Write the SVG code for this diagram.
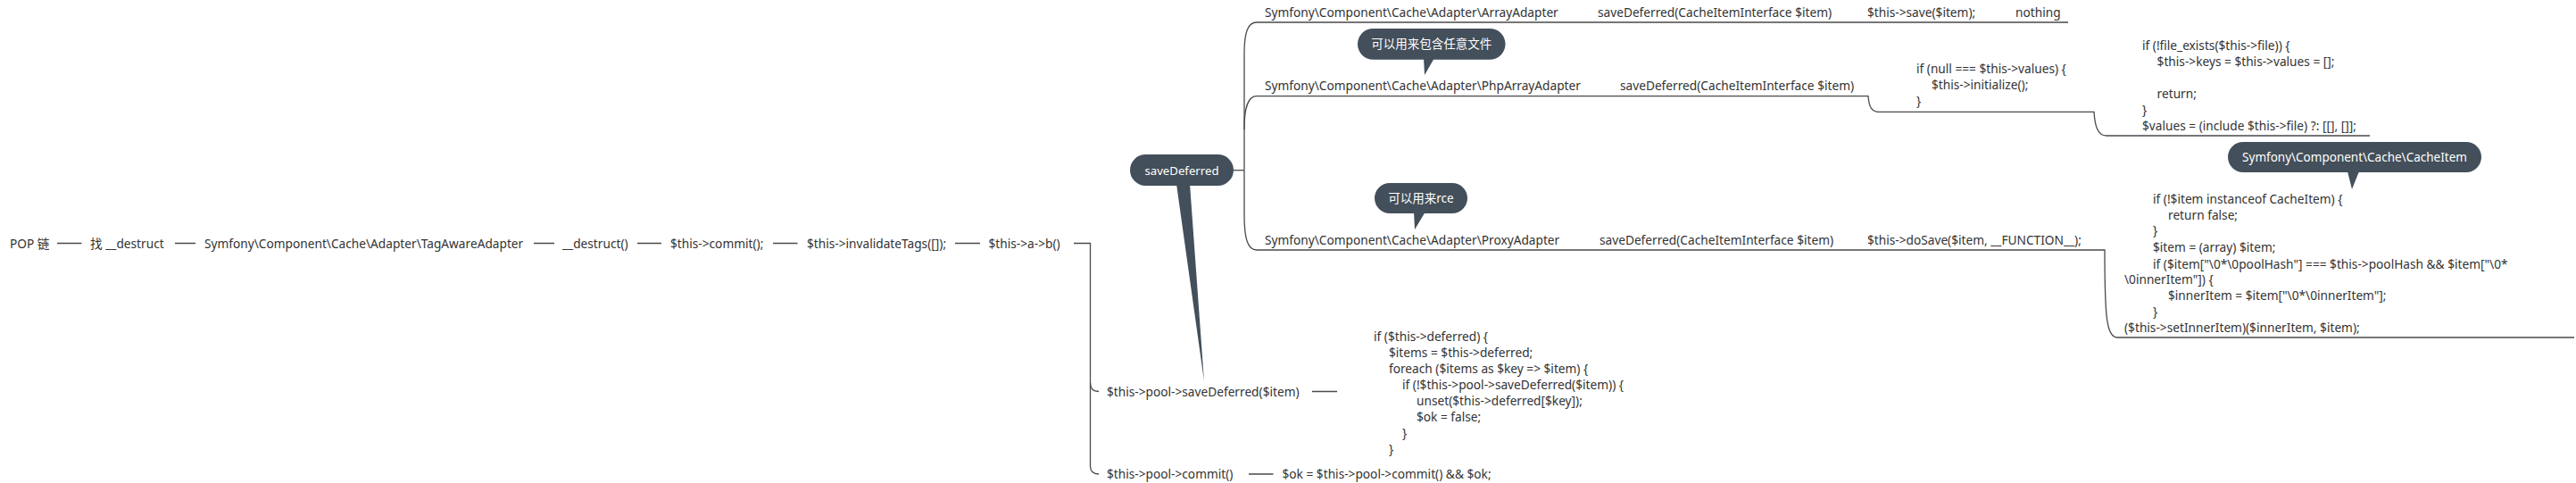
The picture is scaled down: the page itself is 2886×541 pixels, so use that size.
<svg xmlns="http://www.w3.org/2000/svg" width="2886" height="541" viewBox="0 0 2886 541">
<style>
text{font-family:"Noto Sans","Noto Sans CJK SC",sans-serif;font-size:13.7px;fill:#333333}
.w{fill:#ffffff;text-anchor:middle;font-size:13.5px}
.c{fill:none;stroke:#4a4a4a;stroke-width:1.3}
.b{fill:#434f5a}
</style>
<rect width="2886" height="541" fill="#ffffff"/>
<g id="connectors">
<path class="c" d="M64,272.5H91.5M196,272.5H219M598,272.5H621M714,272.5H741M866,272.5H893.5M1070,272.5H1098"/>
<path class="c" d="M1203,272.5H1221.5V522C1221.5,528 1224,531 1231,531"/>
<path class="c" d="M1221.5,429C1221.5,435 1224,438.5 1231,438.5"/>
<path class="c" d="M1470,438.5H1498M1399,531H1426.5"/>
<path class="c" d="M1382,190.7H1394"/>
<path class="c" d="M1394,190.7V60C1394,36 1398,25 1408,25H2317"/>
<path class="c" d="M1394,145C1394,120 1398,107.7 1408,107.7H2093C2094,120 2097,125.3 2105,125.3H2346C2347,141 2350,152 2360,152H2655"/>
<path class="c" d="M1394,190.7V240C1394,268 1398,280 1408,280H2358C2358,355 2360,378 2372,378H2884"/>
</g>
<g id="n-pop"><text x="11" y="277.5">POP 链</text></g>
<g id="n-find"><text x="101" y="277.5">找 __destruct</text></g>
<g id="n-tagaware"><text x="229" y="277.5">Symfony\Component\Cache\Adapter\TagAwareAdapter</text></g>
<g id="n-destruct"><text x="630" y="277.5">__destruct()</text></g>
<g id="n-commit"><text x="751" y="277.5">$this-&gt;commit();</text></g>
<g id="n-invalidate"><text x="904" y="277.5">$this-&gt;invalidateTags([]);</text></g>
<g id="n-ab"><text x="1107.5" y="277.5">$this-&gt;a-&gt;b()</text></g>
<g id="n-poolsave"><text x="1240" y="443.5">$this-&gt;pool-&gt;saveDeferred($item)</text></g>
<g id="n-poolsave-code">
<text x="1539" y="381.7">if ($this-&gt;deferred) {</text>
<text x="1556" y="399.5">$items = $this-&gt;deferred;</text>
<text x="1556" y="417.5">foreach ($items as $key =&gt; $item) {</text>
<text x="1571" y="435.5">if (!$this-&gt;pool-&gt;saveDeferred($item)) {</text>
<text x="1587" y="453.5">unset($this-&gt;deferred[$key]);</text>
<text x="1587" y="471.5">$ok = false;</text>
<text x="1571" y="489.5">}</text>
<text x="1556" y="507.5">}</text>
</g>
<g id="n-poolcommit"><text x="1240" y="536">$this-&gt;pool-&gt;commit()</text></g>
<g id="n-ok"><text x="1436.5" y="536">$ok = $this-&gt;pool-&gt;commit() &amp;&amp; $ok;</text></g>
<g id="n-savedeferred">
<polygon class="b" points="1318,206 1333,206 1349,427"/>
<rect class="b" x="1266" y="173" width="116" height="35" rx="17.5"/>
<text class="w" x="1324" y="195.5" style="font-size:13.2px">saveDeferred</text>
</g>
<g id="n-array">
<text x="1417" y="19">Symfony\Component\Cache\Adapter\ArrayAdapter</text>
<text x="1790" y="19">saveDeferred(CacheItemInterface $item)</text>
<text x="2092" y="19">$this-&gt;save($item);</text>
<text x="2258" y="19">nothing</text>
</g>
<g id="n-phparray">
<text x="1417" y="101">Symfony\Component\Cache\Adapter\PhpArrayAdapter</text>
<text x="1815" y="101">saveDeferred(CacheItemInterface $item)</text>
</g>
<g id="n-phparray-null">
<text x="2147" y="82.3">if (null === $this-&gt;values) {</text>
<text x="2164" y="100">$this-&gt;initialize();</text>
<text x="2147" y="118">}</text>
</g>
<g id="n-phparray-file">
<text x="2400" y="55.7">if (!file_exists($this-&gt;file)) {</text>
<text x="2416.6" y="74">$this-&gt;keys = $this-&gt;values = [];</text>
<text x="2416.6" y="110">return;</text>
<text x="2400" y="127.5">}</text>
<text x="2400" y="145.5">$values = (include $this-&gt;file) ?: [[], []];</text>
</g>
<g id="n-proxy">
<text x="1417" y="274.3">Symfony\Component\Cache\Adapter\ProxyAdapter</text>
<text x="1792" y="274.3">saveDeferred(CacheItemInterface $item)</text>
<text x="2092" y="274.3">$this-&gt;doSave($item, __FUNCTION__);</text>
</g>
<g id="n-cacheitem-code">
<text x="2412" y="227.7">if (!$item instanceof CacheItem) {</text>
<text x="2429" y="245.7">return false;</text>
<text x="2412" y="263">}</text>
<text x="2412" y="281.7">$item = (array) $item;</text>
<text x="2412" y="300.7">if ($item["\0*\0poolHash"] === $this-&gt;poolHash &amp;&amp; $item["\0*</text>
<text x="2380" y="317.7">\0innerItem"]) {</text>
<text x="2429" y="336">$innerItem = $item["\0*\0innerItem"];</text>
<text x="2412" y="354">}</text>
<text x="2380" y="372.3">($this-&gt;setInnerItem)($innerItem, $item);</text>
</g>
<g id="callout-include">
<polygon class="b" points="1595,65 1607,65 1596,84"/>
<rect class="b" x="1521" y="32" width="165.5" height="34.7" rx="17.3"/>
<text class="w" x="1603.7" y="54">可以用来包含任意文件</text>
</g>
<g id="callout-rce">
<polygon class="b" points="1584,237 1597,237 1585,257"/>
<rect class="b" x="1540" y="205" width="104" height="34" rx="17"/>
<text class="w" x="1592" y="227">可以用来rce</text>
</g>
<g id="callout-cacheitem">
<polygon class="b" points="2630,192 2643,192 2635,212"/>
<rect class="b" x="2496" y="159" width="284" height="34" rx="17"/>
<text class="w" x="2638" y="181">Symfony\Component\Cache\CacheItem</text>
</g>
</svg>
